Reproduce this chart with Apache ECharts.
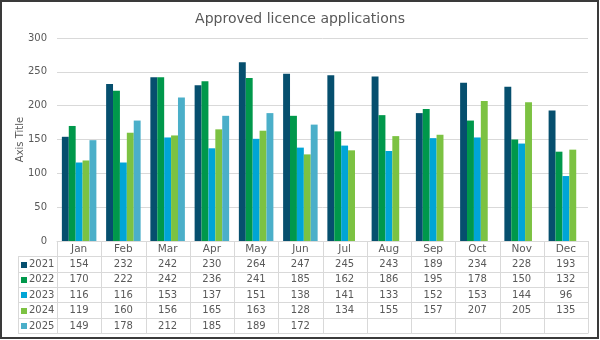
<!DOCTYPE html>
<html>
<head>
<meta charset="utf-8">
<script src="https://cdn.jsdelivr.net/npm/echarts@6/dist/echarts.min.js"></script>
<style>
  html, body { margin: 0; padding: 0; background: #fff; }
  #c { width: 600px; height: 340px; }
</style>
</head>
<body>
<div id="c"></div>
<script>
// Monthly approved licence applications per year
const months = ['Jan', 'Feb', 'Mar', 'Apr', 'May', 'Jun', 'Jul', 'Aug', 'Sep', 'Oct', 'Nov', 'Dec'];
const years = ['2021', '2022', '2023', '2024', '2025'];
const v2021 = [154, 232, 242, 230, 264, 247, 245, 243, 189, 234, 228, 193];
const v2022 = [170, 222, 242, 236, 241, 185, 162, 186, 195, 178, 150, 132];
const v2023 = [116, 116, 153, 137, 151, 138, 141, 133, 152, 153, 144, 96];
const v2024 = [119, 160, 156, 165, 163, 128, 134, 155, 157, 207, 205, 135];
const v2025 = [149, 178, 212, 185, 189, 172, null, null, null, null, null, null];
const yTicks = [0, 50, 100, 150, 200, 250, 300];

const seriesValues = [v2021, v2022, v2023, v2024, v2025];
const colors = ['#064f6e', '#00984b', '#00a5d6', '#7cc242', '#4bafc9'];

const FONT = 'DejaVu Sans';
const TXT = '#595959';
const LINE = '#d9d9d9';

const GRID = { left: 57, right: 12, top: 38, bottom: 99 };
const ROW_H = 15.35;
const TABLE_LEFT = 18;

const chart = echarts.init(document.getElementById('c'), null, { renderer: 'canvas' });

chart.setOption({
  animation: false,
  backgroundColor: '#fff',
  title: {
    text: 'Approved licence applications',
    left: 'center',
    top: 7,
    textStyle: { fontFamily: FONT, fontSize: 14, fontWeight: 'normal', color: TXT }
  },
  grid: GRID,
  xAxis: {
    type: 'category',
    data: months,
    axisLine: { show: true, lineStyle: { color: LINE, width: 1 } },
    axisTick: { show: false },
    axisLabel: { show: false }
  },
  yAxis: {
    type: 'value',
    min: yTicks[0],
    max: yTicks[yTicks.length - 1],
    interval: yTicks[1] - yTicks[0],
    name: 'Axis Title',
    nameLocation: 'middle',
    nameRotate: 90,
    nameGap: 37,
    nameMoveOverlap: false,
    nameTextStyle: { fontFamily: FONT, fontSize: 10, color: TXT, verticalAlign: 'middle' },
    axisLine: { show: false },
    axisTick: { show: false },
    axisLabel: { fontFamily: FONT, fontSize: 10, color: TXT, margin: 10 },
    splitLine: { lineStyle: { color: LINE, width: 1 } }
  },
  series: years.map((y, i) => ({
    name: y,
    type: 'bar',
    data: seriesValues[i],
    barGap: '0%',
    barCategoryGap: '22%',
    itemStyle: { color: colors[i] }
  }))
});

// Data table underneath the plot, aligned to the category axis
function buildTable() {
  const c0 = chart.convertToPixel({ xAxisIndex: 0 }, 0);
  const c1 = chart.convertToPixel({ xAxisIndex: 0 }, 1);
  const catW = c1 - c0;
  const top = chart.convertToPixel({ yAxisIndex: 0 }, 0);
  const plotLeft = c0 - catW / 2;
  const plotRight = plotLeft + catW * months.length;
  const els = [];
  const lineStyle = { stroke: LINE, lineWidth: 1 };
  const FS = 10;

  // horizontal rules
  for (let r = 1; r <= years.length + 1; r++) {
    const y = Math.round(top + r * ROW_H) + 0.5;
    els.push({ type: 'line', shape: { x1: TABLE_LEFT, y1: y, x2: plotRight, y2: y }, style: lineStyle, silent: true });
  }
  // vertical rules between months
  const bottom = Math.round(top + (years.length + 1) * ROW_H) + 0.5;
  for (let i = 0; i <= months.length; i++) {
    const x = Math.round(plotLeft + i * catW) + 0.5;
    els.push({ type: 'line', shape: { x1: x, y1: top, x2: x, y2: bottom }, style: lineStyle, silent: true });
  }
  // left edge of the legend column
  els.push({ type: 'line', shape: { x1: TABLE_LEFT + 0.5, y1: Math.round(top + ROW_H) + 0.5, x2: TABLE_LEFT + 0.5, y2: bottom }, style: lineStyle, silent: true });

  // month headers
  months.forEach((m, i) => {
    els.push({
      type: 'text', silent: true,
      style: { text: m, x: c0 + i * catW, y: top + ROW_H / 2 + 0.5, align: 'center', verticalAlign: 'middle',
               fontFamily: FONT, fontSize: FS + 0.5, fill: TXT }
    });
  });

  // rows: legend key + year + values
  years.forEach((yr, r) => {
    const cy = top + (r + 1.5) * ROW_H + 0.5;
    els.push({ type: 'rect', silent: true, shape: { x: TABLE_LEFT + 3, y: Math.round(cy) - 3, width: 6, height: 6 }, style: { fill: colors[r] } });
    els.push({
      type: 'text', silent: true,
      style: { text: yr, x: TABLE_LEFT + 11, y: cy, align: 'left', verticalAlign: 'middle', fontFamily: FONT, fontSize: FS, fill: TXT }
    });
    seriesValues[r].forEach((v, i) => {
      if (v === null) return;
      els.push({
        type: 'text', silent: true,
        style: { text: String(v), x: c0 + i * catW, y: cy, align: 'center', verticalAlign: 'middle', fontFamily: FONT, fontSize: FS, fill: TXT }
      });
    });
  });

  // outer frame
  els.push({ type: 'rect', silent: true, shape: { x: 1, y: 1, width: 597, height: 337 }, style: { fill: 'none', stroke: '#3a3a3a', lineWidth: 2 } });

  chart.setOption({ graphic: { elements: els } });
}
buildTable();
</script>
</body>
</html>
